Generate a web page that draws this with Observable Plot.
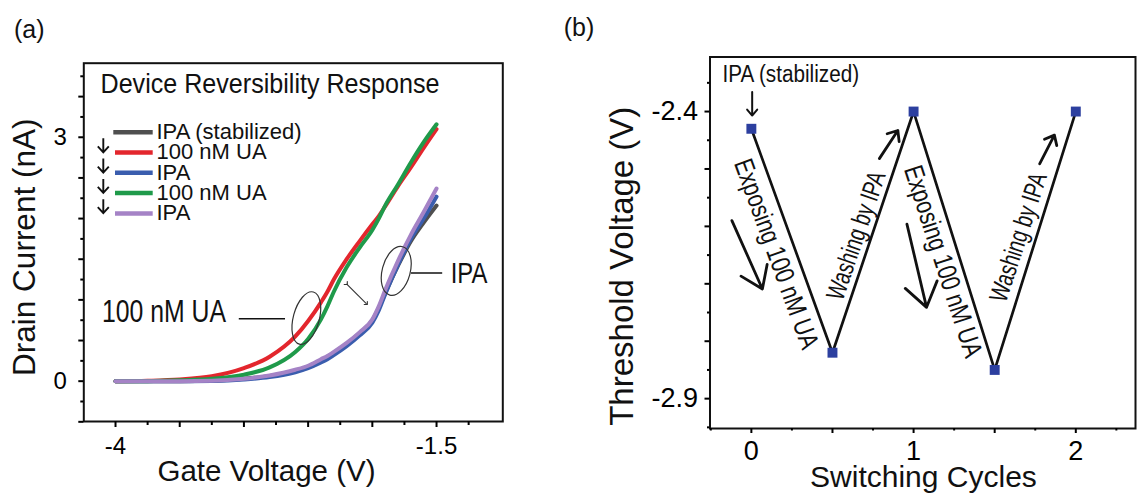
<!DOCTYPE html>
<html><head><meta charset="utf-8">
<script src="https://cdn.jsdelivr.net/npm/d3@7"></script>
<script src="https://cdn.jsdelivr.net/npm/@observablehq/plot@0.6"></script>
<style>
body{margin:0;background:#fff;}
#root{position:relative;width:1138px;height:498px;overflow:hidden;background:#fff;}
#root svg{position:absolute;top:0;overflow:visible;}
</style></head><body><div id="root"></div>
<script>
// ---------- Panel (a) data ----------
const gateVoltage    = [-4, -3.75, -3.5, -3.25, -3.0, -2.8, -2.6, -2.5, -2.4, -2.35, -2.3, -2.2, -2.1, -2.0, -1.95, -1.9, -1.8, -1.7, -1.6, -1.5];
const iIpaStabilized = [0, 0, 0, 0.005, 0.03, 0.065, 0.13, 0.18, 0.26, 0.30, 0.35, 0.46, 0.59, 0.75, 0.90, 1.08, 1.42, 1.72, 1.95, 2.16];
const iUa1           = [0, 0.005, 0.02, 0.06, 0.16, 0.30, 0.55, 0.74, 0.97, 1.10, 1.25, 1.50, 1.72, 1.93, 2.03, 2.15, 2.40, 2.63, 2.87, 3.10];
const iIpa1          = [0, 0, 0, 0.003, 0.02, 0.05, 0.11, 0.16, 0.23, 0.27, 0.32, 0.43, 0.56, 0.72, 0.87, 1.07, 1.43, 1.75, 2.00, 2.27];
const iUa2           = [0, 0, 0.01, 0.03, 0.08, 0.17, 0.36, 0.52, 0.76, 0.92, 1.10, 1.40, 1.64, 1.86, 2.00, 2.16, 2.42, 2.69, 2.94, 3.16];
const iIpa2          = [0, 0, 0, 0.005, 0.03, 0.07, 0.14, 0.19, 0.27, 0.31, 0.36, 0.47, 0.60, 0.76, 0.92, 1.12, 1.48, 1.80, 2.08, 2.37];
const seriesNames    = ["IPA (stabilized)", "100 nM UA", "IPA", "100 nM UA", "IPA"];
const seriesValues   = [iIpaStabilized, iUa1, iIpa1, iUa2, iIpa2];

const xTicksA      = [-4, -3.5, -3, -2.5, -2, -1.5];
const xMinorTicksA = [-3.75, -3.25, -2.75, -2.25, -1.75, -1.25];
const xLabelsA     = [-4, -1.5];
const yTicksA      = [-0.5, 0, 0.5, 1, 1.5, 2, 2.5, 3, 3.5];
const yMinorTicksA = [-0.25, 0.25, 0.75, 1.25, 1.75, 2.25, 2.75, 3.25, 3.75];
const yLabelsA     = [0, 3];

const ellipseCenters = [{v: -2.51, i: 0.77}, {v: -1.81, i: 1.35}];
const annotLabels    = [{v: -3.14, i: 0.849, text: "100 nM UA"}, {v: -1.39, i: 1.331, text: "IPA"}];
const annotLeaders   = [{v1: -3.04, v2: -2.68, i: 0.768}, {v1: -1.70, v2: -1.456, i: 1.331}];
const shiftArrow     = [{v1: -2.201, i1: 1.198, v2: -2.045, i2: 0.952}];

// ---------- Panel (b) data ----------
const cycles      = [0, 0.5, 1, 1.5, 2];
const thresholdV  = [-2.43, -2.82, -2.40, -2.85, -2.40];
const xTicksB      = [0, 0.5, 1, 1.5, 2];
const xMinorTicksB = [-0.25, 0.25, 0.75, 1.25, 1.75, 2.25];
const xLabelsB     = [0, 1, 2];
const yTicksB      = [-2.9, -2.8, -2.7, -2.6, -2.5, -2.4];
const yMinorTicksB = [-2.95, -2.85, -2.75, -2.65, -2.55, -2.45, -2.35];
const yLabelsB     = [-2.4, -2.9];
const stepLabels   = [
  {x: 0.153, y: -2.648, text: "Exposing 100 nM UA"},
  {x: 0.647, y: -2.616, text: "Washing by IPA"},
  {x: 1.181, y: -2.661, text: "Exposing 100 nM UA"},
  {x: 1.647, y: -2.619, text: "Washing by IPA"}
];
const longArrows  = [
  {x1: -0.120, y1: -2.590, x2: 0.068, y2: -2.709},
  {x1: 0.959, y1: -2.596, x2: 1.080, y2: -2.741}
];
const upArrows    = [
  {x1: 0.789, y1: -2.482, x2: 0.903, y2: -2.433},
  {x1: 1.777, y1: -2.491, x2: 1.868, y2: -2.441}
];
const startArrow  = [{x1: 0.005, y1: -2.366, x2: 0.005, y2: -2.407}];

// ---------- styles ----------
const FONT = "'Liberation Sans', Arial, Helvetica, sans-serif";
const seriesColors = ["#4f4f4f", "#e3262d", "#3a5dae", "#1f9a4a", "#a583c6"];
const stepRotate = [70, -71, 72, -72];
// condensed-font emulation: target rendered widths (px) of the narrow texts
const narrowWidths = {
  "Device Reversibility Response": 339, "100 nM UA": 124, "IPA": 36.7,
  "IPA (stabilized)": 136.6, "Exposing 100 nM UA": 200, "Washing by IPA": 134
};

const root = document.getElementById("root");
const fmt = d => String(d);

function condense(svgEl, selector) {
  d3.select(svgEl).selectAll(selector).each(function () {
    const t = this.textContent;
    if (narrowWidths[t] != null) {
      this.setAttribute("textLength", narrowWidths[t]);
      this.setAttribute("lengthAdjust", "spacingAndGlyphs");
    }
  });
}

// ---------- Panel (a) ----------
const lineMarks = seriesValues.map((vals, s) =>
  Plot.line(gateVoltage.map((v, k) => ({v, i: vals[k]})),
    {x: "v", y: "i", stroke: seriesColors[s], strokeWidth: 4, curve: "monotone-x"}));

const plotA = Plot.plot({
  width: 560, height: 498,
  marginLeft: 83.3, marginRight: 57.7, marginTop: 62.7, marginBottom: 77,
  x: {domain: [-4.247, -0.984]},
  y: {domain: [-0.496, 3.911]},
  style: {fontFamily: FONT, color: "black", background: "transparent", overflow: "visible"},
  marks: [
    ...lineMarks,
    Plot.link(annotLeaders, {x1: "v1", x2: "v2", y1: "i", y2: "i", stroke: "#111", strokeWidth: 1.6}),
    Plot.link(shiftArrow, {x1: "v1", y1: "i1", x2: "v2", y2: "i2", stroke: "#333", strokeWidth: 1.1, markerStart: "arrow", markerEnd: "arrow"}),
    Plot.text([annotLabels[0]], {x: "v", y: "i", text: "text", textAnchor: "end", lineAnchor: "middle", fontSize: 31, fill: "#111"}),
    Plot.text([annotLabels[1]], {x: "v", y: "i", text: "text", textAnchor: "start", lineAnchor: "middle", fontSize: 30, fill: "#111"}),
    Plot.text(["Device Reversibility Response"], {frameAnchor: "top-left", dx: 16.7, dy: 10, textAnchor: "start", lineAnchor: "top", fontSize: 28.5, fill: "#111"}),
    Plot.frame({stroke: "#111", strokeWidth: 2}),
    Plot.axisX(xMinorTicksA, {tickSize: 4, tickFormat: () => "", label: null, strokeWidth: 2}),
    Plot.axisX(xTicksA, {tickSize: 6, tickPadding: 9.4, fontSize: 24, tickFormat: d => xLabelsA.includes(d) ? fmt(d) : "", label: null, strokeWidth: 2}),
    Plot.axisY(yMinorTicksA, {tickSize: 3, tickFormat: () => "", label: null, strokeWidth: 2}),
    Plot.axisY(yTicksA, {tickSize: 5, tickPadding: 12, fontSize: 24, tickFormat: d => yLabelsA.includes(d) ? fmt(d) : "", label: null, strokeWidth: 2}),
    Plot.text(["Gate Voltage (V)"], {frameAnchor: "bottom", dx: -26.8, dy: 50, textAnchor: "middle", lineAnchor: "middle", fontSize: 29.5, fill: "#111"}),
    Plot.text(["Drain Current (nA)"], {frameAnchor: "left", rotate: -90, dx: -59.3, dy: 4.9, textAnchor: "middle", lineAnchor: "middle", fontSize: 31.5, fill: "#111"})
  ]
});
plotA.style.left = "0px";
root.appendChild(plotA);

{
  const svg = d3.select(plotA);
  const sx = plotA.scale("x"), sy = plotA.scale("y");
  const ell = [{rx: 13, ry: 27}, {rx: 14, ry: 25}];
  ellipseCenters.forEach((e, k) => {
    const cx = sx.apply(e.v), cy = sy.apply(e.i);
    svg.append("ellipse").attr("cx", cx).attr("cy", cy).attr("rx", ell[k].rx).attr("ry", ell[k].ry)
      .attr("transform", `rotate(15 ${cx} ${cy})`).attr("fill", "none").attr("stroke", "#333").attr("stroke-width", 1.2);
  });
  // legend
  const g = svg.append("g").attr("font-family", FONT).attr("text-anchor", "start");
  const rowY = k => 131 + k * 20.3;
  seriesNames.forEach((name, k) => {
    g.append("line").attr("x1", k === 0 ? 113.3 : 115).attr("x2", 152.7)
      .attr("y1", rowY(k) + 1.2).attr("y2", rowY(k) + 1.2)
      .attr("stroke", seriesColors[k]).attr("stroke-width", 4.5);
    g.append("text").attr("x", 156.5).attr("y", rowY(k)).attr("dy", "0.36em")
      .attr("font-size", 22).attr("fill", "#111").text(name);
    if (k > 0) {
      const ax = 103.3, ay = rowY(k) - 6;
      g.append("path").attr("d", `M${ax},${ay - 7}V${ay + 7}M${ax - 5.5},${ay + 1}L${ax},${ay + 7}L${ax + 5.5},${ay + 1}`)
        .attr("fill", "none").attr("stroke", "#111").attr("stroke-width", 1.9);
    }
  });
  svg.append("text").attr("x", 14).attr("y", 37.5).attr("text-anchor", "start").attr("font-family", FONT).attr("font-size", 25).attr("fill", "#111").text("(a)");
  condense(plotA, "g[aria-label='text'] text");
}

// ---------- Panel (b) ----------
const pts = cycles.map((c, k) => ({c, t: thresholdV[k]}));
const plotB = Plot.plot({
  width: 578, height: 498,
  marginLeft: 149.5, marginRight: 3, marginTop: 56.5, marginBottom: 70,
  x: {domain: [-0.255, 2.368]},
  y: {domain: [-2.952, -2.305]},
  style: {fontFamily: FONT, color: "black", background: "transparent", overflow: "visible"},
  marks: [
    Plot.line(pts, {x: "c", y: "t", stroke: "#111", strokeWidth: 2.7}),
    Plot.dot(pts, {x: "c", y: "t", symbol: "square", r: 5.6, fill: "#2c3f9f", stroke: "none"}),
    ...stepLabels.map((d, k) => Plot.text([d], {x: "x", y: "y", text: "text", rotate: stepRotate[k], textAnchor: "middle", lineAnchor: "middle", fontSize: k % 2 === 0 ? 27 : 26, fill: "#111"})),
    Plot.arrow(longArrows, {x1: "x1", y1: "y1", x2: "x2", y2: "y2", stroke: "#111", strokeWidth: 2.8, headLength: 17, headAngle: 70}),
    Plot.arrow(upArrows, {x1: "x1", y1: "y1", x2: "x2", y2: "y2", stroke: "#111", strokeWidth: 2.8, headLength: 13, headAngle: 80}),
    Plot.arrow(startArrow, {x1: "x1", y1: "y1", x2: "x2", y2: "y2", stroke: "#111", strokeWidth: 2, headLength: 11, headAngle: 80}),
    Plot.text(["IPA (stabilized)"], {frameAnchor: "top-left", dx: 12.5, dy: 8.5, textAnchor: "start", lineAnchor: "top", fontSize: 23.5, fill: "#111"}),
    Plot.frame({stroke: "#111", strokeWidth: 2}),
    Plot.axisX(xMinorTicksB, {tickSize: 2.5, tickFormat: () => "", label: null, strokeWidth: 2}),
    Plot.axisX(xTicksB, {tickSize: 5, tickPadding: 7, fontSize: 27, tickFormat: d => xLabelsB.includes(d) ? fmt(d) : "", label: null, strokeWidth: 2}),
    Plot.axisY(yMinorTicksB, {tickSize: 2.5, tickFormat: () => "", label: null, strokeWidth: 2}),
    Plot.axisY(yTicksB, {tickSize: 5, tickPadding: 7, fontSize: 27, tickFormat: d => yLabelsB.includes(d) ? fmt(d) : "", label: null, strokeWidth: 2}),
    Plot.text(["Switching Cycles"], {frameAnchor: "bottom", dx: 0.7, dy: 49, textAnchor: "middle", lineAnchor: "middle", fontSize: 30, fill: "#111"}),
    Plot.text(["Threshold Voltage (V)"], {frameAnchor: "left", rotate: -90, dx: -87.8, dy: 23.5, textAnchor: "middle", lineAnchor: "middle", fontSize: 33, fill: "#111"})
  ]
});
plotB.style.left = "560px";
root.appendChild(plotB);
d3.select(plotB).append("text").attr("x", 3.7).attr("y", 35.5).attr("text-anchor", "start").attr("font-family", FONT).attr("font-size", 25).attr("fill", "#111").text("(b)");
condense(plotB, "g[aria-label='text'] text");
</script></body></html>
